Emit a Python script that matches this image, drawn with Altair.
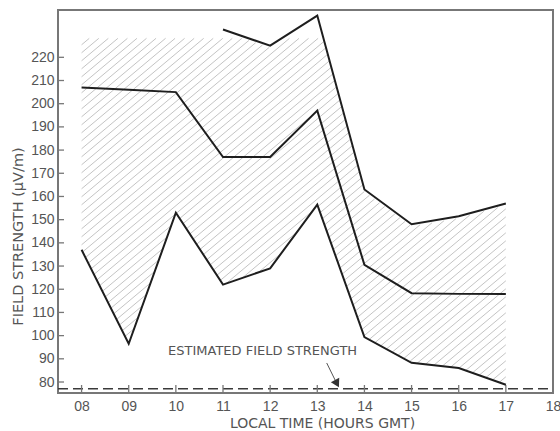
import altair as alt
import pandas as pd
import numpy as np

# ---- data ----
hours = [8, 9, 10, 11, 12, 13, 14, 15, 16, 17]
upper_hours = [11, 12, 13, 14, 15, 16, 17]
upper = [232, 225, 238, 163, 148, 151.5, 157]
middle = [207, 206, 205, 177, 177, 197, 130.5, 118.3, 118, 118]
lower = [137, 96.5, 153, 122, 129, 156.5, 99.4, 88.3, 86, 78.8]
hatch_top = 229
estimated = 77.1
x_ticks = [8, 9, 10, 11, 12, 13, 14, 15, 16, 17, 18]
x_tick_labels = ["08", "09", "10", "11", "12", "13", "14", "15", "16", "17", "18"]
y_ticks = [80, 90, 100, 110, 120, 130, 140, 150, 160, 170, 180, 190, 200, 210, 220]
annotation_text = "ESTIMATED FIELD STRENGTH"
annotation_pos = (11.84, 93.2)
arrow_start = (13.2, 88.2)
arrow_end = (13.44, 78.3)

X_DOMAIN = [7.5, 18.0]
Y_DOMAIN = [75.26, 240.4]
W, H = 495, 383

xs_scale = alt.Scale(domain=X_DOMAIN, nice=False, zero=False)
ys_scale = alt.Scale(domain=Y_DOMAIN, nice=False, zero=False)

# ---- hatch pattern clipped to the shaded region ----
sx = W / (X_DOMAIN[1] - X_DOMAIN[0])
sy = H / (Y_DOMAIN[1] - Y_DOMAIN[0])
theta = np.deg2rad(40)
k = np.tan(theta) * sx / sy
spacing = 8.0 / sy
xs = np.linspace(8, 17, 3601)
top = np.full_like(xs, float(hatch_top))
m = xs >= 11
top[m] = np.minimum(hatch_top, np.interp(xs[m], upper_hours, upper))
bot = np.interp(xs, hours, lower)
segs = []
cmin = min(lower) - k * 17
cmax = hatch_top - k * 8
for c in np.arange(cmin, cmax, spacing):
    yv = k * xs + c
    inside = (yv >= bot) & (yv <= top - 0.8)
    if not inside.any():
        continue
    idx = np.flatnonzero(inside)
    breaks = np.flatnonzero(np.diff(idx) > 1)
    starts = np.concatenate([[idx[0]], idx[breaks + 1]])
    ends = np.concatenate([idx[breaks], [idx[-1]]])
    for s, e in zip(starts, ends):
        if e > s:
            segs.append({"x": xs[s], "y": yv[s], "x2": xs[e], "y2": yv[e]})
hatch_df = pd.DataFrame(segs)

x_axis = alt.Axis(
    values=x_ticks,
    labelExpr="[" + ",".join("'%s'" % s for s in x_tick_labels) + "][datum.value - 8]",
    title="LOCAL TIME (HOURS GMT)",
    titleX=264, titleY=30, titleBaseline="middle", titleAlign="center",
    domain=False, ticks=False, grid=False, labelPadding=6,
    labelFont="Liberation Sans", labelFontSize=14, labelColor="#555",
    titleFont="DejaVu Sans", titleFontSize=14, titleFontWeight="normal", titleColor="#555",
    labelFlush=False, labelOverlap=False,
)
y_axis = alt.Axis(
    values=y_ticks,
    title="FIELD STRENGTH (μV/m)",
    titleX=-40, titleY=226, titleAngle=270, titleAlign="center", titleBaseline="middle",
    domain=False, ticks=False, grid=False, labelPadding=4,
    labelFont="Liberation Sans", labelFontSize=14, labelColor="#555",
    titleFont="DejaVu Sans", titleFontSize=14.5, titleFontWeight="normal", titleColor="#555",
    labelFlush=False, labelOverlap=False,
)


def X(field):
    return alt.X(field, scale=xs_scale, axis=x_axis)


def Y(field):
    return alt.Y(field, scale=ys_scale, axis=y_axis)


hatch = alt.Chart(hatch_df).mark_rule(color="#c4c4c4", strokeWidth=1).encode(
    x=X("x:Q"), y=Y("y:Q"), x2="x2:Q", y2="y2:Q",
)

line_style = dict(color="#1e1e1e", strokeWidth=2, strokeJoin="miter")

upper_df = pd.DataFrame({"x": upper_hours, "y": upper})
mid_df = pd.DataFrame({"x": hours, "y": middle})
low_df = pd.DataFrame({"x": hours, "y": lower})

l_upper = alt.Chart(upper_df).mark_line(**line_style).encode(x=X("x:Q"), y=Y("y:Q"))
l_mid = alt.Chart(mid_df).mark_line(**line_style).encode(x=X("x:Q"), y=Y("y:Q"))
l_low = alt.Chart(low_df).mark_line(**line_style).encode(x=X("x:Q"), y=Y("y:Q"))

est_df = pd.DataFrame({"x": [X_DOMAIN[0]], "x2": [X_DOMAIN[1]], "y": [estimated]})
est = alt.Chart(est_df).mark_rule(color="#3a3a3a", strokeWidth=1.7, strokeDash=[10, 5]).encode(
    x=X("x:Q"), x2="x2:Q", y=Y("y:Q"),
)

ann_df = pd.DataFrame({"x": [annotation_pos[0]], "y": [annotation_pos[1]], "t": [annotation_text]})
ann = alt.Chart(ann_df).mark_text(
    font="DejaVu Sans", fontSize=13, color="#555", align="center", baseline="middle"
).encode(x=X("x:Q"), y=Y("y:Q"), text="t:N")

arr_df = pd.DataFrame({"x": [arrow_start[0]], "y": [arrow_start[1]],
                       "x2": [arrow_end[0]], "y2": [arrow_end[1]]})
arrow = alt.Chart(arr_df).mark_rule(color="#555", strokeWidth=1).encode(
    x=X("x:Q"), y=Y("y:Q"), x2="x2:Q", y2="y2:Q",
)
head_df = pd.DataFrame({"x": [arrow_start[0] + 0.85 * (arrow_end[0] - arrow_start[0])],
                        "y": [arrow_start[1] + 0.85 * (arrow_end[1] - arrow_start[1])]})
head = alt.Chart(head_df).mark_point(
    shape="triangle", filled=True, color="#333", size=90, angle=152, opacity=1
).encode(x=X("x:Q"), y=Y("y:Q"))

ytick_df = pd.DataFrame({"y": y_ticks})
yticks = alt.Chart(ytick_df).mark_rule(color="#777", strokeWidth=1.3).encode(
    x=alt.value(0), x2=alt.value(6), y=Y("y:Q"),
)
xtick_df = pd.DataFrame({"x": x_ticks[:-1]})
xticks = alt.Chart(xtick_df).mark_rule(color="#777", strokeWidth=1.3).encode(
    y=alt.value(H), y2=alt.value(H - 8), x=X("x:Q"),
)

chart = alt.layer(
    hatch, est, xticks, yticks, l_upper, l_mid, l_low, arrow, head, ann
).properties(
    width=W, height=H,
    autosize=alt.AutoSizeParams(type="none"),
    padding={"left": 58, "top": 10, "right": 7, "bottom": 38},
    background="white",
).configure_view(
    stroke="#777", strokeWidth=2
)

chart.save("out.html", embed_options={"renderer": "svg", "actions": False})
